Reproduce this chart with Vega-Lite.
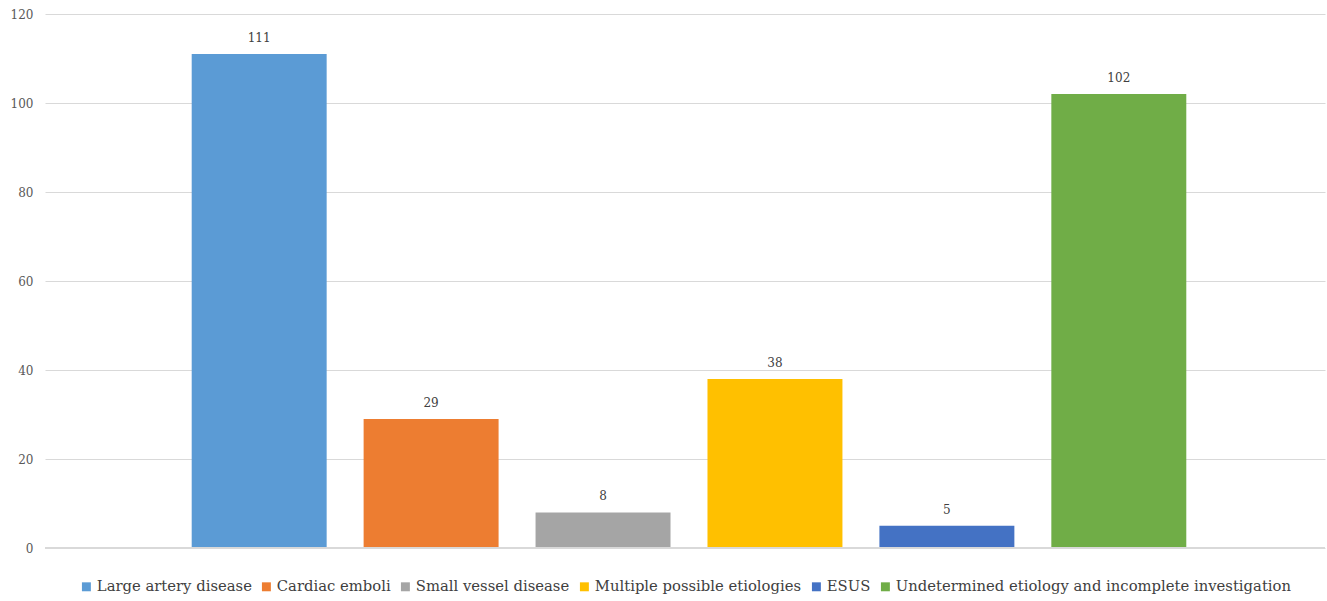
{
  "$schema": "https://vega.github.io/schema/vega-lite/v6.json",
  "autosize": "none",
  "width": 1280,
  "height": 534,
  "padding": {"left": 45, "top": 14, "right": 2, "bottom": 53},
  "background": "white",
  "config": {
    "view": {"stroke": null},
    "font": "DejaVu Serif",
    "legend": {"layout": {"bottom": {"anchor": "middle"}}}
  },
  "data": {
    "values": [
      {"etiology": "Large artery disease", "count": 111},
      {"etiology": "Cardiac emboli", "count": 29},
      {"etiology": "Small vessel disease", "count": 8},
      {"etiology": "Multiple possible etiologies", "count": 38},
      {"etiology": "ESUS", "count": 5},
      {"etiology": "Undetermined etiology and incomplete investigation", "count": 102}
    ]
  },
  "encoding": {
    "x": {
      "field": "etiology",
      "type": "nominal",
      "sort": null,
      "scale": {"paddingInner": 0.215, "paddingOuter": 0.83, "align": 0.514},
      "axis": null
    },
    "y": {
      "field": "count",
      "type": "quantitative",
      "scale": {"domain": [0, 120]},
      "axis": {
        "title": null,
        "values": [0, 20, 40, 60, 80, 100, 120],
        "domain": false,
        "ticks": false,
        "labelFont": "DejaVu Serif",
        "labelFontSize": 12,
        "labelColor": "#595959",
        "labelPadding": 12,
        "gridColor": "#d9d9d9",
        "gridWidth": 1
      }
    }
  },
  "layer": [
    {
      "mark": {"type": "bar"},
      "encoding": {
        "color": {
          "field": "etiology",
          "type": "nominal",
          "sort": null,
          "scale": {
            "range": ["#5B9BD5", "#ED7D31", "#A5A5A5", "#FFC000", "#4472C4", "#70AD47"]
          },
          "legend": {
            "title": null,
            "orient": "bottom",
            "direction": "horizontal",
            "columns": 6,
            "symbolType": "square",
            "symbolSize": 80,
            "symbolStrokeWidth": 0,
            "labelFont": "DejaVu Serif",
            "labelFontSize": 14.8,
            "labelColor": "#404040",
            "labelLimit": 600,
            "columnPadding": 7,
            "symbolOffset": 0,
            "labelOffset": 3,
            "offset": 31
          }
        }
      }
    },
    {
      "mark": {"type": "rule", "color": "#d9d9d9", "strokeWidth": 1.5},
      "encoding": {"y": {"datum": 0}, "x": null}
    },
    {
      "mark": {"type": "text", "dy": -16, "fontSize": 12, "font": "DejaVu Serif", "color": "#404040"},
      "encoding": {"text": {"field": "count", "type": "quantitative"}}
    }
  ]
}
